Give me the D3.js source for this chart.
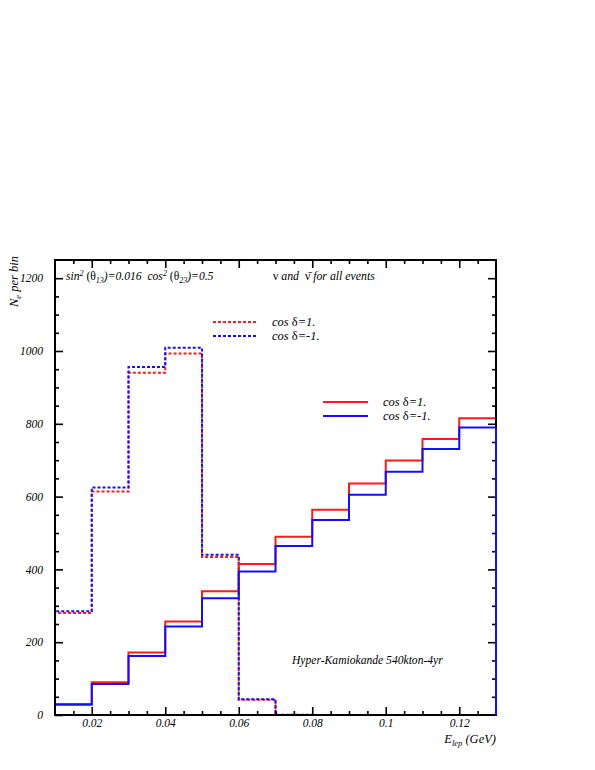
<!DOCTYPE html>
<html>
<head>
<meta charset="utf-8">
<script src="https://cdn.jsdelivr.net/npm/d3@7"></script>
<style>
  body { margin: 0; background: #fff; }
  svg { display: block; }
  svg text { font-family: "Liberation Serif", "DejaVu Serif", serif !important; }
</style>
</head>
<body>
<svg id="chart" width="595" height="770"></svg>
<script>
// ---- data ----
const binEdges = [0.01, 0.02, 0.03, 0.04, 0.05, 0.06, 0.07, 0.08, 0.09, 0.10, 0.11, 0.12, 0.13];
const solidCosPlus  = [30, 90, 172, 257, 340, 415, 490, 564, 636, 699, 758, 815];
const solidCosMinus = [28, 85, 162, 243, 321, 394, 464, 536, 605, 668, 731, 790];
const dashCosPlus   = [280, 614, 940, 993, 434, 42, 0, 0, 0, 0, 0, 0];
const dashCosMinus  = [285, 625, 956, 1009, 440, 43, 1, 0, 0, 0, 0, 0];
const xMajorTicks = [0.02, 0.04, 0.06, 0.08, 0.10, 0.12];
const xMajorLabels = ["0.02", "0.04", "0.06", "0.08", "0.1", "0.12"];
const xMinorTicks = [0.015, 0.025, 0.03, 0.035, 0.045, 0.05, 0.055, 0.065, 0.07, 0.075, 0.085, 0.09, 0.095, 0.105, 0.11, 0.115, 0.125];
const yMajorTicks = [0, 200, 400, 600, 800, 1000, 1200];
const yMinorTicks = [50, 100, 150, 250, 300, 350, 450, 500, 550, 650, 700, 750, 850, 900, 950, 1050, 1100, 1150];

(function () {
const svg = d3.select("#chart");
const pL = 55, pR = 496, pT = 260, pB = 715;
const x = d3.scaleLinear().domain([0.01, 0.13]).range([pL, pR]);
const y = d3.scaleLinear().domain([0, 1250]).range([pB, pT]);

function stepPoints(vals) {
  const pts = [[binEdges[0], 0]];
  vals.forEach((v, i) => { pts.push([binEdges[i], v]); pts.push([binEdges[i + 1], v]); });
  pts.push([binEdges[binEdges.length - 1], 0]);
  return pts;
}
const line = d3.line().x(d => x(d[0])).y(d => y(d[1]));

const series = [
  { vals: dashCosPlus, color: "#ff1a1a", dash: "3,2" },
  { vals: dashCosMinus, color: "#1010ff", dash: "3,2" },
  { vals: solidCosPlus, color: "#ff1a1a", dash: null },
  { vals: solidCosMinus, color: "#1010ff", dash: null }
];
series.forEach(s => {
  svg.append("path").attr("d", line(stepPoints(s.vals)))
    .attr("fill", "none").attr("stroke", s.color).attr("stroke-width", 2)
    .attr("stroke-dasharray", s.dash);
});

// frame
svg.append("rect").attr("x", pL).attr("y", pT).attr("width", pR - pL).attr("height", pB - pT)
  .attr("fill", "none").attr("stroke", "#000").attr("stroke-width", 2);

function styleAxis(g) {
  g.select(".domain").remove();
  g.attr("font-family", null);
  g.selectAll("line").attr("stroke", "#000").attr("stroke-width", 1.6);
  g.selectAll("text").attr("font-style", "italic")
    .attr("font-size", 11.5).attr("fill", "#000");
}
// bottom
svg.append("g").attr("transform", `translate(0,${pB})`)
  .call(d3.axisBottom(x).tickValues(xMajorTicks).tickSize(-8).tickPadding(4)
    .tickFormat((d, i) => xMajorLabels[i])).call(styleAxis);
svg.append("g").attr("transform", `translate(0,${pB})`)
  .call(d3.axisBottom(x).tickValues(xMinorTicks).tickSize(-4).tickFormat("")).call(styleAxis);
// top
svg.append("g").attr("transform", `translate(0,${pT})`)
  .call(d3.axisTop(x).tickValues(xMajorTicks).tickSize(-8).tickFormat("")).call(styleAxis);
svg.append("g").attr("transform", `translate(0,${pT})`)
  .call(d3.axisTop(x).tickValues(xMinorTicks).tickSize(-4).tickFormat("")).call(styleAxis);
// left
svg.append("g").attr("transform", `translate(${pL},0)`)
  .call(d3.axisLeft(y).tickValues(yMajorTicks).tickSize(-8).tickPadding(12).tickFormat(d3.format("d"))).call(styleAxis);
svg.append("g").attr("transform", `translate(${pL},0)`)
  .call(d3.axisLeft(y).tickValues(yMinorTicks).tickSize(-4).tickFormat("")).call(styleAxis);
// right
svg.append("g").attr("transform", `translate(${pR},0)`)
  .call(d3.axisRight(y).tickValues(yMajorTicks.filter(v => v > 0)).tickSize(-8).tickFormat("")).call(styleAxis);
svg.append("g").attr("transform", `translate(${pR},0)`)
  .call(d3.axisRight(y).tickValues(yMinorTicks).tickSize(-4).tickFormat("")).call(styleAxis);

// right-edge coloured drop over frame
svg.append("path").attr("d", line(stepPoints(solidCosMinus).slice(-2)))
  .attr("stroke", "#1010ff").attr("stroke-width", 2).attr("fill", "none");

// annotation: mixing angles
const ann = svg.append("text").attr("x", 66).attr("y", 280).attr("font-size", 11.6).attr("font-style", "italic");
ann.append("tspan").text("sin");
ann.append("tspan").attr("dy", -4).attr("font-size", 8).text("2");
ann.append("tspan").attr("dy", 4).attr("font-style", "normal").text("\u00A0(θ");
ann.append("tspan").attr("dy", 3).attr("font-size", 8).text("13");
ann.append("tspan").attr("dy", -3).text(")=0.016\u00A0\u00A0cos");
ann.append("tspan").attr("dy", -4).attr("font-size", 8).text("2");
ann.append("tspan").attr("dy", 4).attr("font-style", "normal").text("\u00A0(θ");
ann.append("tspan").attr("dy", 3).attr("font-size", 8).text("23");
ann.append("tspan").attr("dy", -3).text(")=0.5");

const nu = svg.append("text").attr("x", 273).attr("y", 280).attr("font-size", 11.8).attr("font-style", "italic");
nu.append("tspan").attr("font-style", "normal").text("ν");
nu.append("tspan").text("\u00A0and\u00A0\u00A0");
nu.append("tspan").attr("font-style", "normal").text("ν\u0304");
nu.append("tspan").text("\u00A0for all events");

// legends
function legend(x0, x1, tx, yy, color, dash, val) {
  svg.append("line").attr("x1", x0).attr("x2", x1).attr("y1", yy).attr("y2", yy)
    .attr("stroke", color).attr("stroke-width", 2).attr("stroke-dasharray", dash);
  const t = svg.append("text").attr("x", tx).attr("y", yy + 4).attr("font-size", 12.5).attr("font-style", "italic");
  t.append("tspan").text("cos\u00A0");
  t.append("tspan").attr("font-style", "normal").text("δ");
  t.append("tspan").text("=" + val);
}
legend(213, 258, 272, 322, "#ff1a1a", "3,2", "1.");
legend(213, 258, 272, 336, "#1010ff", "3,2", "-1.");
legend(323, 368, 383, 402, "#ff1a1a", null, "1.");
legend(323, 368, 383, 416, "#1010ff", null, "-1.");

svg.append("text").attr("x", 292).attr("y", 664).attr("font-size", 11.6).attr("font-style", "italic")
  .text("Hyper-Kamiokande 540kton-4yr");

// axis titles
const xt = svg.append("text").attr("x", 496).attr("y", 743).attr("text-anchor", "end")
  .attr("font-size", 12.5).attr("font-style", "italic");
xt.append("tspan").text("E");
xt.append("tspan").attr("dy", 3).attr("font-size", 8.5).text("lep");
xt.append("tspan").attr("dy", -3).text("\u00A0(GeV)");

const yt = svg.append("text").attr("transform", "translate(18,307) rotate(-90)")
  .attr("font-size", 12.5).attr("font-style", "italic");
yt.append("tspan").text("N");
yt.append("tspan").attr("dy", 3).attr("font-size", 8.5).text("e");
yt.append("tspan").attr("dy", -3).text("\u00A0per bin");
})();
</script>
</body>
</html>
